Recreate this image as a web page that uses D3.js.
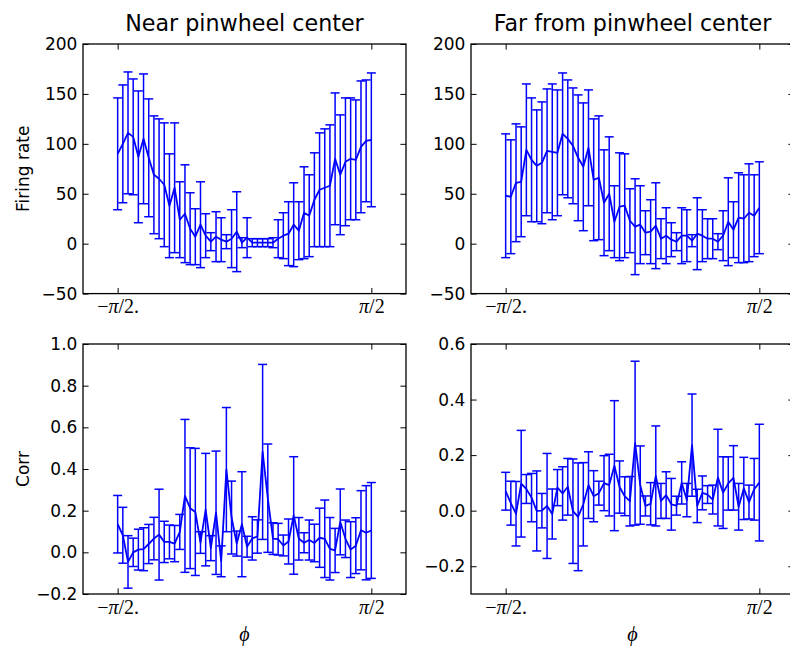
<!DOCTYPE html>
<html>
<head>
<meta charset="utf-8">
<script src="https://cdn.jsdelivr.net/npm/d3@7"></script>
<style>
  body { margin: 0; background: #ffffff; }
  text { font-family: "DejaVu Sans", sans-serif; fill: #000000; }
</style>
</head>
<body>
<div id="chart"></div>
<script>
// sampling grid of the orientation axis (50 samples from -pi/2 to pi/2)
var nPhi = 50
var phi = d3.range(nPhi).map(function(i) { return -Math.PI / 2 + i * Math.PI / (nPhi - 1); });

// firing rate, near pinwheel center
var rateNearMean = [90, 100, 111, 107, 87, 105, 86, 69, 65, 59,
                    38, 56, 24, 30, 15, 7, 19, 8, 2, 7,
                    4, 2, 5, 12, 1, 6, 1, 1, 1, 1,
                    1, 5, 8, 10, 19, 13, 31, 28, 44, 54,
                    56, 58, 85, 69, 82, 85, 84, 97, 103, 104]
var rateNearErr = [56, 59, 61, 58, 66, 65, 59, 59, 60, 62,
                   52, 65, 38, 49, 36, 28, 43, 22, 9, 25,
                   22, 7, 29, 40, 5, 20, 4, 4, 4, 4,
                   5, 19, 23, 32, 42, 29, 46, 41, 47, 57,
                   59, 61, 66, 60, 64, 61, 60, 66, 61, 67]

// firing rate, far from pinwheel center
var rateFarMean = [48, 47, 61, 62, 94, 84, 78, 81, 93, 92,
                   91, 110, 105, 98, 86, 77, 96, 64, 66, 41,
                   50, 22, 37, 38, 23, 17, 19, 11, 12, 18,
                   5, 8, 4, 2, 8, 8, 3, 10, 8, 5,
                   5, 2, 8, 22, 14, 26, 25, 31, 28, 36]
var rateFarErr = [62, 57, 59, 55, 66, 62, 56, 61, 62, 68,
                  63, 61, 59, 58, 63, 64, 58, 61, 62, 53,
                  57, 36, 54, 52, 32, 48, 39, 22, 32, 43,
                  20, 28, 17, 9, 28, 26, 6, 36, 26, 20,
                  20, 8, 25, 44, 28, 45, 44, 49, 41, 46]

// correlation, near pinwheel center
var corrNearMean = [0.135, 0.082, -0.046, 0.0, 0.013, 0.015, 0.04, 0.066, 0.085, 0.05,
                    0.05, 0.042, 0.098, 0.271, 0.212, 0.194, 0.047, 0.205, 0.02, 0.19,
                    -0.043, 0.397, 0.167, 0.042, 0.135, 0.027, 0.067, 0.076, 0.482, 0.26,
                    0.066, 0.063, 0.033, 0.052, 0.177, 0.065, 0.046, 0.059, 0.045, 0.07,
                    0.065, 0.017, 0.009, 0.146, 0.065, 0.013, 0.032, 0.106, 0.094, 0.105]
var corrNearErr = [0.138, 0.134, 0.126, 0.068, 0.098, 0.103, 0.094, 0.102, 0.218, 0.099,
                   0.081, 0.087, 0.084, 0.367, 0.29, 0.305, 0.052, 0.27, 0.06, 0.296,
                   0.074, 0.298, 0.175, 0.06, 0.252, 0.05, 0.104, 0.08, 0.42, 0.26,
                   0.076, 0.076, 0.05, 0.108, 0.282, 0.102, 0.048, 0.096, 0.09, 0.142,
                   0.186, 0.15, 0.106, 0.158, 0.09, 0.134, 0.134, 0.19, 0.226, 0.23]

// correlation, far from pinwheel center
var corrFarMean = [0.07, 0.027, -0.011, 0.097, 0.078, 0.047, -0.001, 0.0, 0.017, -0.012,
                   0.083, 0.062, 0.086, -0.002, -0.022, 0.023, 0.092, 0.052, 0.063, 0.099,
                   0.092, 0.162, 0.085, 0.052, 0.034, 0.243, 0.092, 0.017, 0.025, 0.125,
                   0.035, 0.056, 0.023, 0.018, 0.1, 0.038, 0.236, 0.017, 0.064, 0.058,
                   0.04, 0.119, 0.065, 0.098, 0.118, 0.014, 0.08, 0.031, 0.077, 0.101]
var corrFarErr = [0.068, 0.079, 0.116, 0.192, 0.052, 0.087, 0.144, 0.062, 0.189, 0.09,
                  0.065, 0.096, 0.102, 0.188, 0.194, 0.15, 0.12, 0.092, 0.043, 0.099,
                  0.111, 0.234, 0.094, 0.07, 0.089, 0.295, 0.141, 0.036, 0.076, 0.18,
                  0.063, 0.084, 0.093, 0.034, 0.076, 0.06, 0.184, 0.06, 0.061, 0.032,
                  0.052, 0.174, 0.129, 0.096, 0.116, 0.084, 0.112, 0.061, 0.111, 0.21]

// ticks
var xTickValues = [-Math.PI / 2, Math.PI / 2]
var xTickLabels = ["\u2212\u03c0/2.", "\u03c0/2"]
var rateTicks = [-50, 0, 50, 100, 150, 200]
var rateTickLabels = ["\u221250", "0", "50", "100", "150", "200"]
var corrNearTicks = [-0.2, 0.0, 0.2, 0.4, 0.6, 0.8, 1.0]
var corrNearTickLabels = ["\u22120.2", "0.0", "0.2", "0.4", "0.6", "0.8", "1.0"]
var corrFarTicks = [-0.2, 0.0, 0.2, 0.4, 0.6]
var corrFarTickLabels = ["\u22120.2", "0.0", "0.2", "0.4", "0.6"]

var titles = ["Near pinwheel center", "Far from pinwheel center"]

var width = 790
var height = 649
var tickLen = 5.6
var tickPad = 5.6
var fontSize = 17
var capHalf = 4.5
var blue = "#0000ff"

var colX = [[83, 406], [471, 794]]
var rowY = [[44, 293.6], [344, 594]]

var svg = d3.select("#chart")
  .append("svg")
    .attr("width", width)
    .attr("height", height)

svg.append("rect")
  .attr("width", width)
  .attr("height", height)
  .attr("fill", "#ffffff")

var panels = [
  {col: 0, row: 0, ydom: [-50, 200], yticks: rateTicks, ylabels: rateTickLabels, mean: rateNearMean, err: rateNearErr, ylabel: "Firing rate"},
  {col: 1, row: 0, ydom: [-50, 200], yticks: rateTicks, ylabels: rateTickLabels, mean: rateFarMean, err: rateFarErr},
  {col: 0, row: 1, ydom: [-0.2, 1.0], yticks: corrNearTicks, ylabels: corrNearTickLabels, mean: corrNearMean, err: corrNearErr, ylabel: "Corr"},
  {col: 1, row: 1, ydom: [-0.3, 0.6], yticks: corrFarTicks, ylabels: corrFarTickLabels, mean: corrFarMean, err: corrFarErr}
]

function mathLabel(sel, label) {
  // the pi is drawn in italic, rest upright, like mathtext
  var parts = label.split("\u03c0")
  sel.text(null)
  sel.append("tspan").text(parts[0])
  sel.append("tspan").attr("font-style", "italic").text("\u03c0")
  sel.append("tspan").text(parts[1])
}

function drawPanel(p) {
  var x0 = colX[p.col][0], x1 = colX[p.col][1]
  var y0 = rowY[p.row][0], y1 = rowY[p.row][1]

  var xScale = d3.scaleLinear().domain([-2, 2]).range([x0, x1])
  var yScale = d3.scaleLinear().domain(p.ydom).range([y1, y0])

  var g = svg.append("g")

  // inward ticks on all four sides
  var left = g.append("g")
    .attr("transform", "translate(" + x0 + ",0)")
    .call(d3.axisLeft(yScale).tickValues(p.yticks)
      .tickFormat(function(d, i) { return p.ylabels[i]; })
      .tickSizeInner(-tickLen).tickSizeOuter(0).tickPadding(tickPad))
  var right = g.append("g")
    .attr("transform", "translate(" + x1 + ",0)")
    .call(d3.axisRight(yScale).tickValues(p.yticks).tickFormat("")
      .tickSizeInner(-tickLen).tickSizeOuter(0))
  var bottom = g.append("g")
    .attr("transform", "translate(0," + y1 + ")")
    .call(d3.axisBottom(xScale).tickValues(xTickValues)
      .tickFormat(function(d, i) { return xTickLabels[i]; })
      .tickSizeInner(-tickLen).tickSizeOuter(0).tickPadding(tickPad))
  var top = g.append("g")
    .attr("transform", "translate(0," + y0 + ")")
    .call(d3.axisTop(xScale).tickValues(xTickValues).tickFormat("")
      .tickSizeInner(-tickLen).tickSizeOuter(0))

  ;[left, right, bottom, top].forEach(function(a) {
    a.select(".domain").remove()
    a.selectAll("line").attr("stroke", "#000000").attr("stroke-width", 1)
    a.selectAll("text")
      .attr("fill", "#000000")
      .style("font-family", "'DejaVu Sans', sans-serif")
      .style("font-size", fontSize + "px")
  })

  bottom.selectAll("text")
    .style("font-family", "'Liberation Serif', 'DejaVu Serif', serif")
    .style("font-size", "20px")
    .each(function(d, i) { mathLabel(d3.select(this), xTickLabels[i]); })

  // error bars
  var bars = g.append("g").selectAll("g")
    .data(p.mean)
    .enter()
    .append("g")

  bars.append("line")
    .attr("x1", function(d, i) { return xScale(phi[i]); })
    .attr("x2", function(d, i) { return xScale(phi[i]); })
    .attr("y1", function(d, i) { return yScale(d - p.err[i]); })
    .attr("y2", function(d, i) { return yScale(d + p.err[i]); })
    .attr("stroke", blue)
    .attr("stroke-width", 1.5)

  ;[-1, 1].forEach(function(s) {
    bars.append("line")
      .attr("x1", function(d, i) { return xScale(phi[i]) - capHalf; })
      .attr("x2", function(d, i) { return xScale(phi[i]) + capHalf; })
      .attr("y1", function(d, i) { return yScale(d + s * p.err[i]); })
      .attr("y2", function(d, i) { return yScale(d + s * p.err[i]); })
      .attr("stroke", blue)
      .attr("stroke-width", 1.5)
  })

  // mean curve
  g.append("path")
    .datum(p.mean)
    .attr("fill", "none")
    .attr("stroke", blue)
    .attr("stroke-width", 1.8)
    .attr("stroke-linejoin", "round")
    .attr("d", d3.line()
      .x(function(d, i) { return xScale(phi[i]); })
      .y(function(d) { return yScale(d); }))

  // frame
  g.append("rect")
    .attr("x", x0)
    .attr("y", y0)
    .attr("width", x1 - x0)
    .attr("height", y1 - y0)
    .attr("fill", "none")
    .attr("stroke", "#000000")
    .attr("stroke-width", 1.3)

  var xMid = (x0 + x1) / 2
  var yMid = (y0 + y1) / 2

  if (p.row == 0) {
    g.append("text")
      .attr("x", xMid)
      .attr("y", y0 - 13)
      .attr("text-anchor", "middle")
      .style("font-size", "22.2px")
      .text(titles[p.col])
  } else {
    g.append("text")
      .attr("x", xMid)
      .attr("y", y1 + 47)
      .attr("text-anchor", "middle")
      .style("font-family", "'Liberation Serif', 'DejaVu Serif', serif")
      .style("font-style", "italic")
      .style("font-size", "20px")
      .text("\u03d5")
  }

  if (p.ylabel) {
    g.append("text")
      .attr("transform", "translate(" + 29 + "," + yMid + ")rotate(-90)")
      .attr("text-anchor", "middle")
      .style("font-size", fontSize + "px")
      .text(p.ylabel)
  }
}

panels.forEach(drawPanel)
</script>
</body>
</html>
